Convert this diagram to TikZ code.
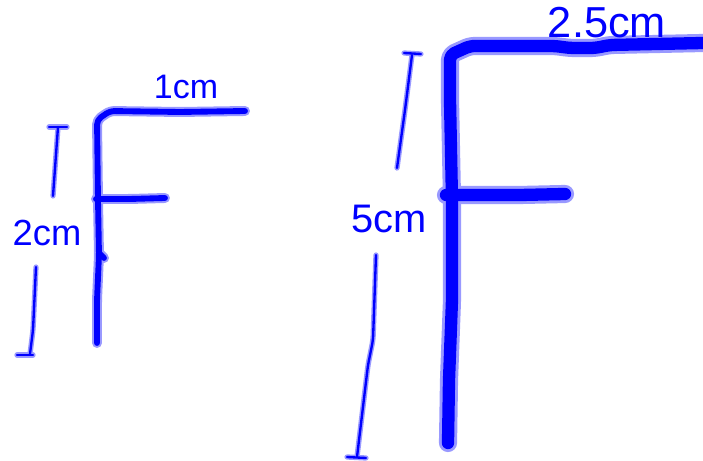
\documentclass[tikz,border=0pt]{standalone}
\usepackage{fontspec}
\setmainfont{Liberation Sans}
\usepackage{tikz}
\tikzset{
    pen/.style={line cap=round, line join=round, rounded corners=4pt},
    glow/.style={pen, draw=blue!40, line width=#1},
    ink/.style={pen, draw=blue, line width=#1},
    label/.style={text=blue, inner sep=0pt}
}

\begin{document}
\begin{tikzpicture}[x=0.03cm, y={(0,-0.03cm)}]
\useasboundingbox (0,0) rectangle (703,461);
% small F
\foreach \s/\w in {glow/8.5pt, ink/5pt} {
\draw[\s=\w] (245,111) -- (180,112) -- (110,111) -- (97,120) -- (98,200) -- (99,255) -- (97,300) -- (97,343);
\draw[\s=\w] (96,199) -- (130,199) -- (165,198);
\draw[\s=\w] (99,253) -- (104,258);
}
% big F
\foreach \s/\w in {glow/15.5pt, ink/10.5pt} {
\draw[\s=\w] (703,43) -- (610,45) -- (595,48) -- (570,48) -- (555,46) -- (470,46) -- (450,55) -- (450,100) -- (452,200) -- (452,300) -- (449,380) -- (448,443);
\draw[\s=\w] (446,195) -- (520,195) -- (565,194);
}
% dimension marks
\foreach \s/\w in {glow/4.5pt, ink/2pt} {
\draw[\s=\w] (49,127) -- (67,127);
\draw[\s=\w] (58,127) -- (53,196);
\draw[\s=\w] (36,267) -- (33,330) -- (30,354);
\draw[\s=\w] (17,355) -- (33,355);
\draw[\s=\w] (404,53) -- (421,54);
\draw[\s=\w] (412,55) -- (405,110) -- (397,168);
\draw[\s=\w] (376,255) -- (373,340) -- (368,365) -- (357,457);
\draw[\s=\w] (347,457) -- (366,458);
}
% lengths
\node[label, font=\fontsize{29}{29}\selectfont] (one) at (186,87) {1cm};
\node[label, font=\fontsize{31}{31}\selectfont] (two) at (47,233) {2cm};
\node[label, font=\fontsize{34}{34}\selectfont] (five) at (389,219) {5cm};
\node[label, font=\fontsize{37}{37}\selectfont] (twohalf) at (607,23) {2.5cm};
\end{tikzpicture}
\end{document}
